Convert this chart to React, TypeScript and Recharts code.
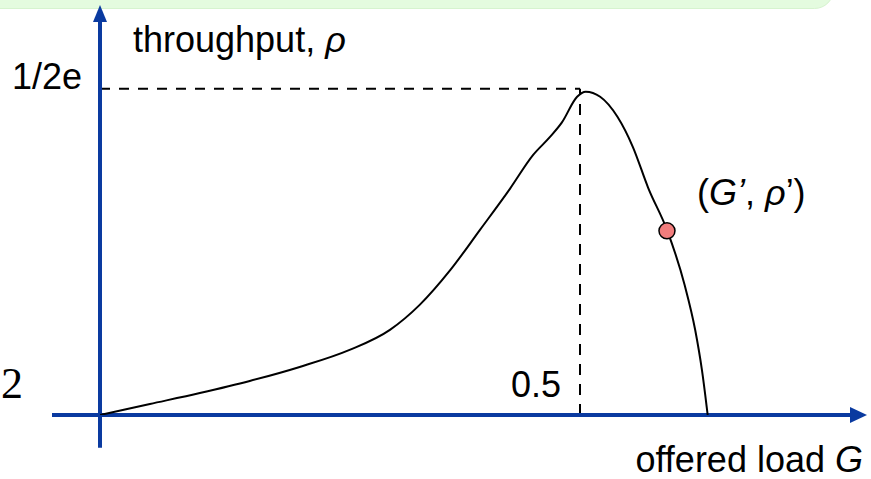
import {
  LineChart,
  Line,
  XAxis,
  YAxis,
  ReferenceLine,
  ReferenceDot,
} from "recharts";

// ─── Data ────────────────────────────────────────────────────────────────────

// offered load G (x) and throughput ρ (y) along the drawn curve
const loadG = [
  0, 0.052, 0.104, 0.156, 0.208, 0.26, 0.302, 0.333, 0.365, 0.396, 0.427,
  0.451, 0.469, 0.481, 0.497, 0.506, 0.521, 0.539, 0.555, 0.571, 0.591, 0.609,
  0.62, 0.627, 0.632, 0.633,
];
const throughput = [
  0, 0.0062, 0.0124, 0.0192, 0.0271, 0.0367, 0.048, 0.0621, 0.0818, 0.1045,
  0.1275, 0.1465, 0.1569, 0.1648, 0.1794, 0.1822, 0.1794, 0.1681, 0.1512,
  0.1281, 0.1038, 0.0733, 0.0479, 0.0254, 0.0045, 0,
];

// marked operating point (G', ρ')
const opPointG = 0.5906;
const opPointRho = 0.1038;

// peak marker: G = 0.5, ρ = 1/2e
const peakG = 0.5;
const peakRho = 1 / (2 * Math.E);

const X_MAX = 0.8;
const Y_MAX = 0.23;

// ─── Constants ───────────────────────────────────────────────────────────────

const AXIS_BLUE = "#0a3aa0";
const FONT = "'Liberation Sans', Arial, sans-serif";
const FONT_SIZE = 36;

const data = loadG.map((g, i) => ({ g, rho: throughput[i] }));

// ─── Component ───────────────────────────────────────────────────────────────

export default function App() {
  return (
    <div
      style={{
        position: "absolute",
        left: 0,
        top: 0,
        width: 871,
        height: 479,
        background: "#ffffff",
        overflow: "hidden",
      }}
    >
      {/* light green banner along the top edge */}
      <div
        style={{
          position: "absolute",
          left: -20,
          top: -30,
          width: 852,
          height: 37,
          borderRadius: 28,
          background: "#e4fbdf",
          border: "1px solid #d6f3cf",
        }}
      />
      <div
        style={{
          position: "absolute",
          left: 1,
          top: 362,
          fontFamily: "'Liberation Serif', 'Times New Roman', serif",
          fontSize: 44,
          lineHeight: "44px",
          color: "#000",
        }}
      >
        2
      </div>

      <LineChart
        width={871}
        height={479}
        data={data}
        margin={{ top: 7, right: 3, bottom: 64, left: 100 }}
        style={{ position: "absolute", left: 0, top: 0 }}
      >
        <XAxis
          type="number"
          dataKey="g"
          domain={[0, X_MAX]}
          allowDataOverflow
          hide
        />
        <YAxis type="number" domain={[0, Y_MAX]} allowDataOverflow hide />

        {/* dashed guides to the peak */}
        <ReferenceLine
          segment={[
            { x: 0, y: peakRho },
            { x: peakG, y: peakRho },
          ]}
          stroke="#000"
          strokeWidth={2}
          strokeDasharray="10 9"
          ifOverflow="visible"
        />
        <ReferenceLine
          segment={[
            { x: peakG, y: 0 },
            { x: peakG, y: peakRho },
          ]}
          stroke="#000"
          strokeWidth={2}
          strokeDasharray="11 9"
          ifOverflow="visible"
        />

        {/* axes with arrowheads */}
        <ReferenceLine
          segment={[
            { x: -0.05, y: 0 },
            { x: 0.785, y: 0 },
          ]}
          stroke={AXIS_BLUE}
          strokeWidth={4}
          ifOverflow="visible"
        />
        <ReferenceLine
          segment={[
            { x: 0, y: -0.0185 },
            { x: 0, y: 0.222 },
          ]}
          stroke={AXIS_BLUE}
          strokeWidth={4}
          ifOverflow="visible"
        />
        <ReferenceDot
          x={X_MAX}
          y={0}
          r={0}
          ifOverflow="visible"
          shape={(p: any) => (
            <polygon
              points={`${p.cx - 1},${p.cy} ${p.cx - 18},${p.cy - 8} ${p.cx - 18},${p.cy + 8}`}
              fill={AXIS_BLUE}
            />
          )}
        />
        <ReferenceDot
          x={0}
          y={Y_MAX}
          r={0}
          ifOverflow="visible"
          shape={(p: any) => (
            <polygon
              points={`${p.cx},${p.cy - 2} ${p.cx - 7},${p.cy + 15} ${p.cx + 7},${p.cy + 15}`}
              fill={AXIS_BLUE}
            />
          )}
        />

        <Line
          type="monotone"
          dataKey="rho"
          stroke="#000"
          strokeWidth={2}
          dot={false}
          isAnimationActive={false}
        />

        {/* operating point */}
        <ReferenceDot
          x={opPointG}
          y={opPointRho}
          r={8}
          fill="#f27d7d"
          stroke="#000"
          strokeWidth={1.5}
          ifOverflow="visible"
        />

        {/* text labels, placed relative to the marks they describe */}
        <ReferenceDot
          x={0}
          y={Y_MAX}
          r={0}
          ifOverflow="visible"
          shape={(p: any) => (
            <text
              x={p.cx + 33}
              y={p.cy + 45}
              fontFamily={FONT}
              fontSize={FONT_SIZE}
              fill="#000"
            >
              throughput, <tspan fontStyle="italic">ρ</tspan>
            </text>
          )}
        />
        <ReferenceDot
          x={0}
          y={peakRho}
          r={0}
          ifOverflow="visible"
          shape={(p: any) => (
            <text
              x={p.cx - 18}
              y={p.cy}
              textAnchor="end"
              fontFamily={FONT}
              fontSize={FONT_SIZE}
              fill="#000"
            >
              1/2e
            </text>
          )}
        />
        <ReferenceDot
          x={peakG}
          y={0}
          r={0}
          ifOverflow="visible"
          shape={(p: any) => (
            <text
              x={p.cx - 19}
              y={p.cy - 18}
              textAnchor="end"
              fontFamily={FONT}
              fontSize={FONT_SIZE}
              fill="#000"
            >
              0.5
            </text>
          )}
        />
        <ReferenceDot
          x={X_MAX}
          y={0}
          r={0}
          ifOverflow="visible"
          shape={(p: any) => (
            <text
              x={p.cx - 5}
              y={p.cy + 57}
              textAnchor="end"
              fontFamily={FONT}
              fontSize={FONT_SIZE}
              fill="#000"
            >
              offered load <tspan fontStyle="italic">G</tspan>
            </text>
          )}
        />
        <ReferenceDot
          x={opPointG}
          y={opPointRho}
          r={0}
          ifOverflow="visible"
          shape={(p: any) => (
            <text
              x={p.cx + 30}
              y={p.cy - 26}
              fontFamily={FONT}
              fontSize={FONT_SIZE}
              fill="#000"
            >
              (<tspan fontStyle="italic">G’</tspan>,{" "}
              <tspan fontStyle="italic">ρ</tspan>’)
            </text>
          )}
        />
      </LineChart>
    </div>
  );
}
